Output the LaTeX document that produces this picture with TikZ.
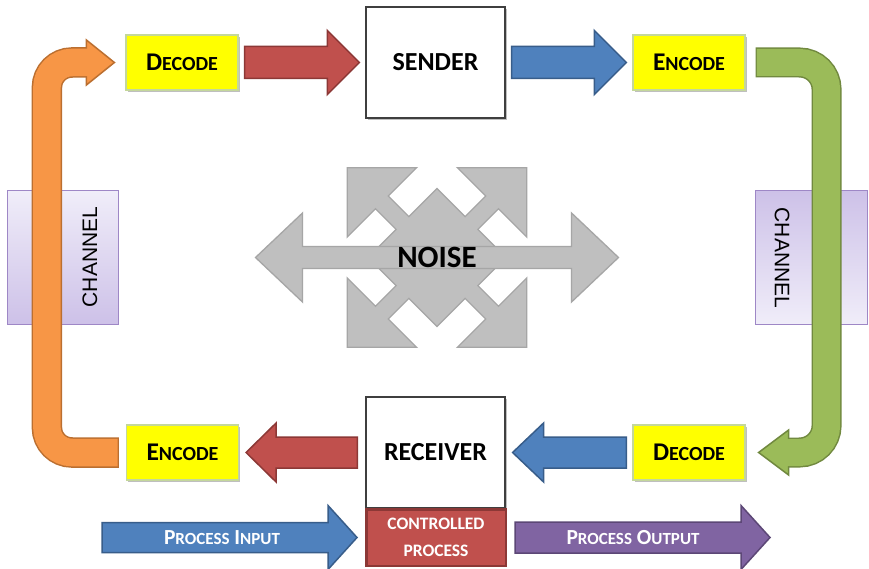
\documentclass[tikz,border=0pt]{standalone}
\usepackage{fontspec}
\setmainfont{Carlito}
\newfontfamily\chanfont{Liberation Sans}
\usetikzlibrary{calc,shadows}

\definecolor{yFill}{HTML}{FFFF00}
\definecolor{yBorder}{HTML}{C4D79B}
\definecolor{redF}{HTML}{C0504D}
\definecolor{redB}{HTML}{8C3836}
\definecolor{blueF}{HTML}{4F81BD}
\definecolor{blueB}{HTML}{385D8A}
\definecolor{orangeF}{HTML}{F79646}
\definecolor{orangeB}{HTML}{BB6F30}
\definecolor{greenF}{HTML}{9BBB59}
\definecolor{greenB}{HTML}{71893F}
\definecolor{purpleF}{HTML}{8064A2}
\definecolor{purpleB}{HTML}{5C4776}
\definecolor{noiseF}{HTML}{BFBFBF}
\definecolor{noiseB}{HTML}{A6A6A6}
\definecolor{chanLight}{HTML}{F0EDF9}
\definecolor{chanDark}{HTML}{CDC1E8}
\definecolor{chanB}{HTML}{9E87C6}
\definecolor{boxB}{HTML}{3F3F3F}

% one capital letter followed by smaller capitals
\newcommand\capsmall[4]{{\fontsize{#1}{#1}\selectfont #3}{\fontsize{#2}{#2}\selectfont #4}}

% straight block arrow: style, tail, tip, shaft half width, head half width, head length
\newcommand\blockarrow[6]{%
  \coordinate (ba-s) at (#2);
  \coordinate (ba-t) at (#3);
  \coordinate (ba-b) at ($(ba-t)!#6!(ba-s)$);
  \draw[#1] ($(ba-s)!#4!90:(ba-t)$) -- ($(ba-b)!#4!-90:(ba-s)$)
    -- ($(ba-b)!#5!-90:(ba-s)$) -- (ba-t) -- ($(ba-b)!#5!90:(ba-s)$)
    -- ($(ba-b)!#4!90:(ba-s)$) -- ($(ba-s)!#4!-90:(ba-t)$) -- cycle;}

% triangular head of a bent arrow: style, back centre, tip, half width
\newcommand\arrowhead[4]{%
  \draw[#1] ($(#2)!#4!90:(#3)$) -- (#3) -- ($(#2)!#4!-90:(#3)$) -- cycle;}

\tikzset{
  boxshadow/.style={drop shadow={shadow xshift=1.5pt, shadow yshift=-2pt, opacity=0.25, fill=black}},
  ybox/.style={draw=yBorder, line width=1.2pt, fill=yFill, minimum width=112pt,
    minimum height=55pt, inner sep=0pt, boxshadow, font=\bfseries},
  wbox/.style={draw=boxB, line width=1.2pt, fill=white, minimum width=139pt,
    inner sep=0pt, boxshadow, font=\bfseries\fontsize{26}{26}\selectfont},
  chanbox/.style={draw=chanB, line width=1pt, minimum width=111pt, minimum height=134pt, inner sep=0pt},
  chantext/.style={font=\chanfont\fontsize{21}{21}\selectfont, text=black, inner sep=0pt},
  redA/.style={fill=redF, draw=redB, line width=1.5pt, line join=miter},
  blueA/.style={fill=blueF, draw=blueB, line width=1.5pt, line join=miter},
  purpleA/.style={fill=purpleF, draw=purpleB, line width=1.5pt, line join=miter},
  whitelab/.style={text=white, font=\bfseries\fontsize{21.5}{21.5}\selectfont, inner sep=0pt},
  noiseshape/.style={fill=noiseF, draw=noiseB, line width=1.3pt, line join=miter},
}

\begin{document}
\begin{tikzpicture}[x=1pt,y=-1pt]
\fill[white] (0,0) rectangle (869,569);
\useasboundingbox (0,0) rectangle (869,569);

% channel panels
\node[chanbox, top color=chanLight, bottom color=chanDark] (chanL) at (62.5,257.5) {};
\node[chanbox, top color=chanDark, bottom color=chanLight, minimum width=112pt] (chanR) at (811.5,257.5) {};
\node[chantext, rotate=90] (chanLtxt) at (90,257) {CHANNEL};
\node[chantext, rotate=-90] (chanRtxt) at (782,258) {CHANNEL};

% coding stages
\node[ybox] (dec1) at (182,62.5) {\capsmall{25.5}{20}{D}{ECODE}};
\node[ybox] (enc1) at (689,62.5) {\capsmall{25.5}{20}{E}{NCODE}};
\node[ybox] (enc2) at (182.5,452.5) {\capsmall{25.5}{20}{E}{NCODE}};
\node[ybox] (dec2) at (689,452.5) {\capsmall{25.5}{20}{D}{ECODE}};

% sender and receiver
\node[wbox, minimum height=111pt] (sender) at (435.5,62.5) {SENDER};
\node[wbox, minimum height=111pt] (receiver) at (435.5,452.5) {RECEIVER};
\node[draw=redB, line width=2.5pt, fill=redF, minimum width=139.5pt, minimum height=56.5pt,
  text=white, align=center, inner sep=0pt, font=\bfseries\fontsize{17.5}{27}\selectfont]
  (ctrl) at (436,537.5) {CONTROLLED\\PROCESS};

% channel on the left: bent orange arrow
\coordinate (oS) at ($(enc2.west)+(-7,0)$);
\coordinate (oB) at ($(dec1.west)+(-39,0)$);
\coordinate (oT) at ($(dec1.west)+(-11,0)$);
\draw[orangeB, line width=30.5pt, rounded corners=25pt] (oS) -| ($(oB)+(-39.5,0)$) -- (oB);
\arrowhead{fill=orangeF, draw=orangeB, line width=1.5pt, line join=miter}{oB}{oT}{22.5pt}
\draw[orangeF, line width=27.5pt, rounded corners=25pt] ($(oS)+(-1.3,0)$) -| ($(oB)+(-39.5,0)$) -- ($(oB)+(1.5,0)$);

% channel on the right: bent green arrow
\coordinate (gS) at ($(enc1.east)+(10,0)$);
\coordinate (gB) at ($(dec2.east)+(43,0)$);
\coordinate (gT) at ($(dec2.east)+(13,0)$);
\draw[greenB, line width=30pt, rounded corners=27pt] (gS) -| ($(gB)+(38,0)$) -- (gB);
\arrowhead{fill=greenF, draw=greenB, line width=1.5pt, line join=miter}{gB}{gT}{22.5pt}
\draw[greenF, line width=27pt, rounded corners=27pt] ($(gS)+(1.3,0)$) -| ($(gB)+(38,0)$) -- ($(gB)+(-1.5,0)$);

% flow between the stages
\blockarrow{redA}{$(dec1.east)+(6,0)$}{$(sender.west)+(-6,0)$}{16pt}{32pt}{32pt}
\blockarrow{blueA}{$(sender.east)+(6,0)$}{$(enc1.west)+(-6,0)$}{16pt}{32pt}{32pt}
\blockarrow{redA}{$(receiver.west)+(-8,0)$}{$(enc2.east)+(7,0)$}{15.5pt}{29.5pt}{30pt}
\blockarrow{blueA}{$(dec2.west)+(-6,0)$}{$(receiver.east)+(7,0)$}{15.5pt}{29.5pt}{31pt}

% process input and output
\coordinate (pinS) at (102,537.5);
\coordinate (poutT) at (770,537.5);
\blockarrow{blueA}{pinS}{$(ctrl.west)+(-8,0)$}{15pt}{32pt}{29pt}
\blockarrow{purpleA}{$(ctrl.east)+(8,0)$}{poutT}{15.5pt}{32pt}{29pt}
\node[whitelab] (pinlab) at (222,538) {\capsmall{21.5}{17}{P}{ROCESS} \capsmall{21.5}{17}{I}{NPUT}};
\node[whitelab] (poutlab) at (633,538) {\capsmall{21.5}{17}{P}{ROCESS} \capsmall{21.5}{17}{O}{UTPUT}};

% noise: diagonal four-way arrow under a horizontal double arrow
\coordinate (nc) at (437,257.5);
\begin{scope}[shift={(nc)}, rotate=45]
\draw[noiseshape] (48.8,-48.8) -- (48.8,-9) -- (78,-9) -- (78,-49) -- (127,0) -- (78,49) -- (78,9)
  -- (48.8,9) -- (48.8,48.8) -- (9,48.8) -- (9,78) -- (49,78) -- (0,127) -- (-49,78) -- (-9,78)
  -- (-9,48.8) -- (-48.8,48.8) -- (-48.8,9) -- (-78,9) -- (-78,49) -- (-127,0) -- (-78,-49)
  -- (-78,-9) -- (-48.8,-9) -- (-48.8,-48.8) -- (-9,-48.8) -- (-9,-78) -- (-49,-78) -- (0,-127)
  -- (49,-78) -- (9,-78) -- (9,-48.8) -- cycle;
\end{scope}
\begin{scope}[shift={(nc)}]
\draw[noiseshape] (-181.5,0) -- (-134.5,-44.5) -- (-134.5,-11) -- (134.5,-11) -- (134.5,-44.5)
  -- (181.5,0) -- (134.5,44.5) -- (134.5,11) -- (-134.5,11) -- (-134.5,44.5) -- cycle;
\end{scope}
\node[font=\bfseries\fontsize{31}{31}\selectfont, inner sep=0pt] (noise) at (nc) {NOISE};
\end{tikzpicture}
\end{document}
